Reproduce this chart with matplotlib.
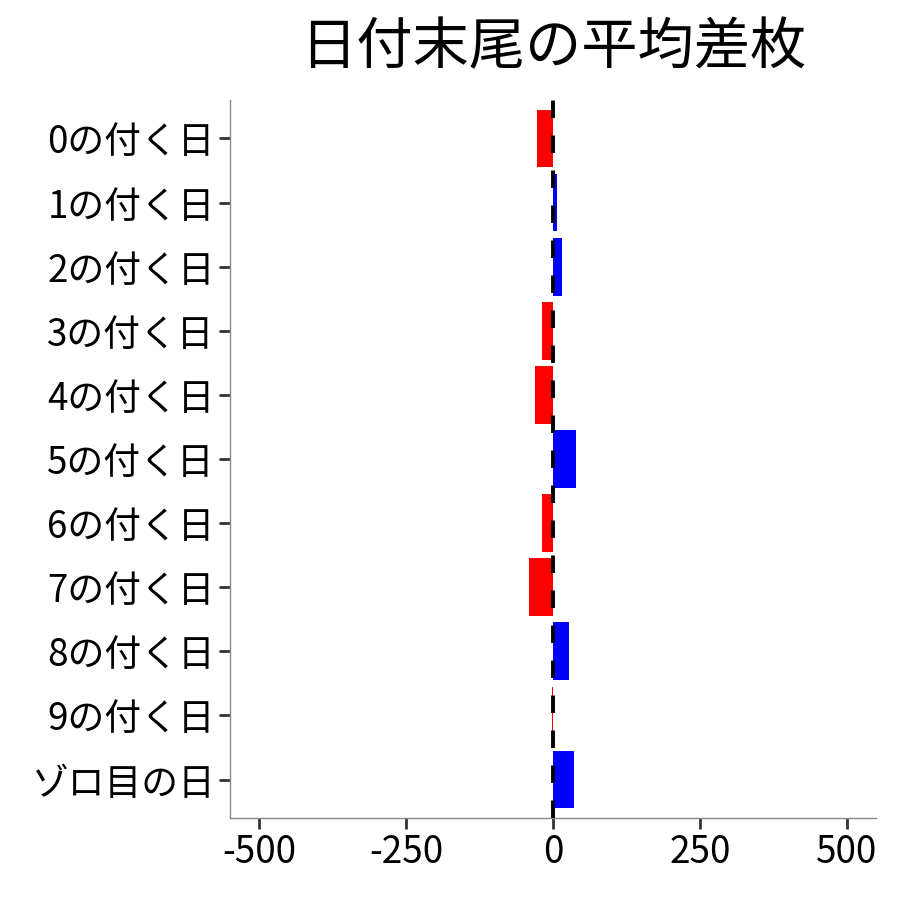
import matplotlib
matplotlib.use("Agg")
import matplotlib.pyplot as plt
import numpy as np

plt.rcParams['font.family'] = ['Noto Sans CJK JP', 'DejaVu Sans']

labels = ["0の付く日", "1の付く日", "2の付く日", "3の付く日", "4の付く日",
          "5の付く日", "6の付く日", "7の付く日", "8の付く日", "9の付く日",
          "ゾロ目の日"]
diffs = [-27, 7, 15, -18, -31, 40, -19, -41, 28, -2, 35]
xticks = [-500, -250, 0, 250, 500]

colors = ["#ff0000" if d < 0 else "#0000ff" for d in diffs]
ypos = np.arange(len(labels))

fig = plt.figure(figsize=(9, 9), dpi=100)
ax = fig.add_axes([230/900, 1 - 818/900, (876 - 230)/900, (818 - 100)/900])

ax.barh(ypos, diffs, height=0.9, color=colors, zorder=2)
ax.axvline(0, color="black", linewidth=2.8, linestyle=(0, (4.5, 4.5)), zorder=3)

ax.set_xlim(-550, 550)
ax.set_ylim(len(labels) - 0.4, -0.6)
ax.set_xticks(xticks)
ax.set_xticklabels([str(v) for v in xticks])
ax.set_yticks(ypos)
ax.set_yticklabels(labels)

for s in ["top", "right"]:
    ax.spines[s].set_visible(False)
for s in ["left", "bottom"]:
    ax.spines[s].set_color("#888888")
    ax.spines[s].set_linewidth(1.0)

ax.tick_params(axis="both", labelsize=26.5, colors="#333333", length=8, width=2,
               labelcolor="black", pad=3)

ax.set_title("日付末尾の平均差枚", fontsize=40.5, pad=26)

fig.savefig("out.png", dpi=100, facecolor="white")
